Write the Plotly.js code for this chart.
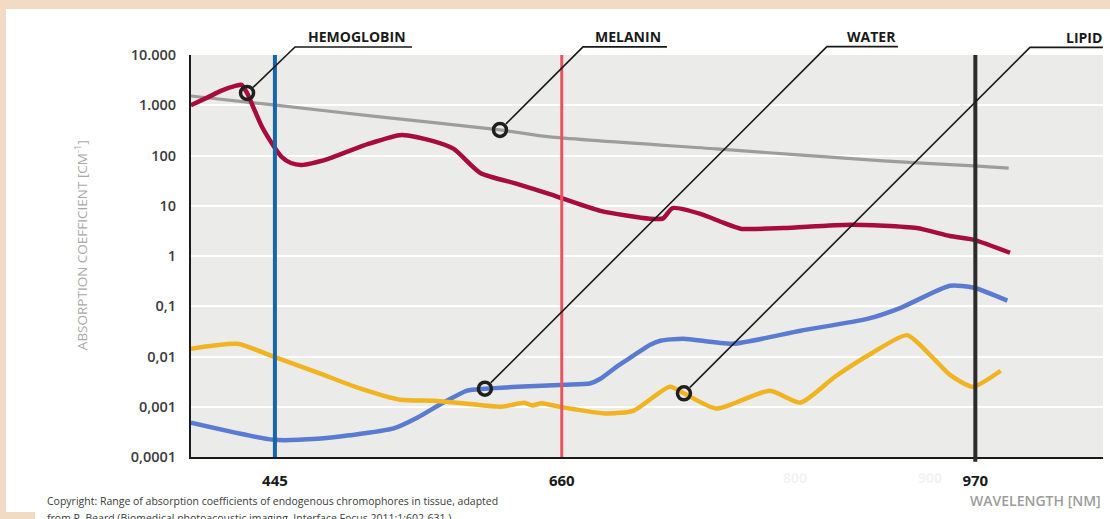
<!DOCTYPE html>
<html>
<head>
<meta charset="utf-8">
<script src="https://cdn.plot.ly/plotly-3.0.1.min.js"></script>
<style>
  html, body { margin: 0; padding: 0; width: 1110px; height: 519px; overflow: hidden; background: #f1dbc5; }
  #chart { position: absolute; left: 6px; top: 9px; width: 1104px; height: 510px; }
  #patch { position: absolute; left: 0; top: 512px; width: 35px; height: 7px; background: #f1dbc5; z-index: 5; }
</style>
</head>
<body>
<div id="chart"></div>
<div id="patch"></div>
<script>
// ---- data ----
const hemoglobinNm   = [382, 395, 405, 416, 420, 424.1, 430, 435, 444, 450, 457, 465, 485, 515, 540, 563, 579, 599, 627, 651, 689, 726, 736, 743, 764, 781, 794, 826, 876, 926, 951, 969, 996];
const hemoglobinCoef = [1000, 1450, 1950, 2450, 2550, 1757, 771, 387, 155, 94, 71, 65, 86, 170, 257, 195, 135, 45, 27, 17, 7.9, 5.5, 5.6, 9.0, 6.9, 4.6, 3.5, 3.6, 4.2, 3.6, 2.5, 2.1, 1.16];

const melaninNm   = [382, 444, 520, 613.7, 651, 776, 901, 969, 995];
const melaninCoef = [1530, 1014, 600, 323, 234, 135, 78, 62, 56];

const waterNm   = [382, 444, 477, 501, 534, 552, 571, 589, 602.4, 627, 663, 681, 689, 702, 714, 726, 734, 751, 788, 839, 889, 914, 951, 969, 994];
const waterCoef = [4.8e-4, 2.2e-4, 2.3e-4, 2.7e-4, 3.7e-4, 6.1e-4, 1.2e-3, 2.1e-3, 2.29e-3, 2.5e-3, 2.75e-3, 2.9e-3, 3.6e-3, 6.5e-3, 1.05e-2, 1.7e-2, 2.06e-2, 2.26e-2, 1.79e-2, 3.26e-2, 5.6e-2, 9.3e-2, 0.256, 0.233, 0.129];

const lipidNm   = [382, 417, 444, 477, 507, 539, 564, 589, 614, 632, 638, 645, 651, 662, 694, 714, 741, 751.6, 776, 816, 839, 865, 893, 919, 938, 951, 968, 989];
const lipidCoef = [0.0143, 0.0179, 0.0099, 4.8e-3, 2.4e-3, 1.38e-3, 1.32e-3, 1.15e-3, 1.0e-3, 1.2e-3, 1.06e-3, 1.18e-3, 1.1e-3, 9.6e-4, 7.3e-4, 8.4e-4, 2.5e-3, 1.85e-3, 9.2e-4, 2.09e-3, 1.21e-3, 4.0e-3, 0.0119, 0.0266, 0.0095, 4.3e-3, 2.5e-3, 5.2e-3];

const calloutNames = ["HEMOGLOBIN", "MELANIN", "WATER", "LIPID"];
const calloutNm    = [424.1, 613.7, 602.4, 751.6];
const calloutCoef  = [1757, 323, 2.29e-3, 1.85e-3];

const markerNm     = [445, 660, 970];
const markerColors = ["#1766a8", "#e8545f", "#2b2b2b"];

const yTickVals  = [1e-4, 1e-3, 1e-2, 1e-1, 1, 10, 100, 1000, 10000];
const yTickText  = ["0,0001", "0,001", "0,01", "0,1", "1", "10", "100", "1.000", "10.000"];
const xTickVals  = [445, 660, 970];
const xTickText  = ["445", "660", "970"];
const fadedTickNm   = [835, 936];
const fadedTickText = ["800", "900"];

// ---- styling / layout helpers ----
const FONT = "Open Sans, Lato, sans-serif";
const X_RANGE = [382.1, 1065.7];
const Y_RANGE = [-4, 4];
const MARGIN = {l: 185, r: 7, t: 46, b: 62};
const FIG_W = 1104, FIG_H = 510;
const PLOT_W = FIG_W - MARGIN.l - MARGIN.r;
const PLOT_H = FIG_H - MARGIN.t - MARGIN.b;
// convert data -> paper fraction through the axis scales
const xPaper = nm => (nm - X_RANGE[0]) / (X_RANGE[1] - X_RANGE[0]);
const yPaper = v => (Math.log10(v) - Y_RANGE[0]) / (Y_RANGE[1] - Y_RANGE[0]);

// leader geometry relative to each circle (pixels)
const leaderGeom = [
  {bx: 48, up: 46, ex: 165, tx: 110, ty: 56, sx: 6, sy: 5.5},
  {bx: 83, up: 83, ex: 167, tx: 128, ty: 93, sx: 6, sy: 6},
  {bx: 342, up: 342, ex: 413, tx: 387, ty: 352, sx: 6, sy: 6},
  {bx: 346, up: 346, ex: 419, tx: 400, ty: 356, sx: 6, sy: 6}
];

const traces = [
  {x: melaninNm, y: melaninCoef, mode: "lines", line: {color: "#9d9d9d", width: 3.2, shape: "spline", smoothing: 0.6}, name: "Melanin"},
  {x: hemoglobinNm, y: hemoglobinCoef, mode: "lines", line: {color: "#a80c3e", width: 4.5, shape: "spline", smoothing: 0.6}, name: "Hemoglobin"},
  {x: waterNm, y: waterCoef, mode: "lines", line: {color: "#5a7bd0", width: 4.5, shape: "spline", smoothing: 0.6}, name: "Water"},
  {x: lipidNm, y: lipidCoef, mode: "lines", line: {color: "#f0b322", width: 4.5, shape: "spline", smoothing: 0.6}, name: "Lipid"},
  {x: calloutNm, y: calloutCoef, mode: "markers", marker: {size: 13, color: "rgba(0,0,0,0)", line: {color: "#1f1f1f", width: 3.5}}, name: "callouts", hoverinfo: "skip"}
];

const shapes = [];
markerNm.forEach((nm, i) => {
  shapes.push({type: "line", xref: "x", yref: "paper", x0: nm, x1: nm, y0: i === 2 ? -0.012 : 0, y1: 1,
               line: {color: markerColors[i], width: i === 1 ? 3 : 4}, layer: "above"});
});
calloutNames.forEach((n, i) => {
  const g = leaderGeom[i];
  const cx = xPaper(calloutNm[i]), cy = yPaper(calloutCoef[i]);
  const P = (dx, dy) => `${(cx + dx / PLOT_W).toFixed(5)},${(cy + dy / PLOT_H).toFixed(5)}`;
  shapes.push({type: "path", xref: "paper", yref: "paper",
               path: `M${P(g.sx, g.sy)} L${P(g.bx, g.up)} L${P(g.ex, g.up)}`,
               line: {color: "#1a1a1a", width: 1.6}, layer: "above"});
});

const annotations = [];
calloutNames.forEach((n, i) => {
  const g = leaderGeom[i];
  annotations.push({text: n, x: calloutNm[i], y: Math.log10(calloutCoef[i]), xref: "x", yref: "y",
                    xshift: g.tx, yshift: g.ty, showarrow: false, xanchor: "center", yanchor: "middle",
                    font: {family: FONT, size: 14, color: "#1a1a1a", weight: 700}});
});
fadedTickNm.forEach((nm, i) => {
  annotations.push({text: fadedTickText[i], x: nm, y: -0.052, xref: "x", yref: "paper", showarrow: false,
                    yanchor: "middle", font: {family: FONT, size: 14, color: "#f3f3f3", weight: 700}});
});
annotations.push({text: "ABSORPTION COEFFICIENT [CM<sup>-1</sup>]", textangle: -90, xref: "paper", yref: "paper",
                  x: -0.1206, y: 0.527, showarrow: false, xanchor: "center", yanchor: "middle",
                  font: {family: FONT, size: 13.5, color: "#a9a9a9"}});
annotations.push({text: "WAVELENGTH [NM]", xref: "paper", yref: "paper", x: 1.0, y: -0.107, showarrow: false,
                  xanchor: "right", yanchor: "middle", font: {family: FONT, size: 14, color: "#9c9c9c", weight: 600}});
annotations.push({text: "Copyright: Range of absorption coefficients of endogenous chromophores in tissue, adapted",
                  xref: "paper", yref: "paper", x: -0.1601, y: -0.1095, showarrow: false, xanchor: "left", yanchor: "middle",
                  font: {family: FONT, size: 10.5, color: "#3a3a3a"}});
annotations.push({text: "from P. Beard (Biomedical photoacoustic imaging, Interface Focus 2011;1:602-631.)",
                  xref: "paper", yref: "paper", x: -0.1601, y: -0.152, showarrow: false, xanchor: "left", yanchor: "middle",
                  font: {family: FONT, size: 10.5, color: "#3a3a3a"}});

const layout = {
  width: FIG_W, height: FIG_H,
  margin: MARGIN,
  paper_bgcolor: "#ffffff",
  plot_bgcolor: "#ebebea",
  showlegend: false,
  xaxis: {
    type: "linear", range: X_RANGE,
    tickvals: xTickVals, ticktext: xTickText,
    showgrid: false, zeroline: false,
    showline: true, linecolor: "#1a1a1a", linewidth: 2,
    ticks: "outside", ticklen: 9, tickcolor: "rgba(0,0,0,0)",
    tickfont: {family: FONT, size: 15, color: "#1a1a1a", weight: 700}
  },
  yaxis: {
    type: "log", range: Y_RANGE,
    tickvals: yTickVals, ticktext: yTickText,
    showgrid: true, gridcolor: "#ffffff", gridwidth: 2,
    zeroline: false,
    showline: true, linecolor: "#1a1a1a", linewidth: 2,
    ticks: "outside", ticklen: 10, tickcolor: "rgba(0,0,0,0)",
    tickfont: {family: FONT, size: 14.5, color: "#3c3c3c", weight: 600}
  },
  shapes: shapes,
  annotations: annotations
};

Plotly.newPlot("chart", traces, layout, {displayModeBar: false, staticPlot: true});
</script>
</body>
</html>
